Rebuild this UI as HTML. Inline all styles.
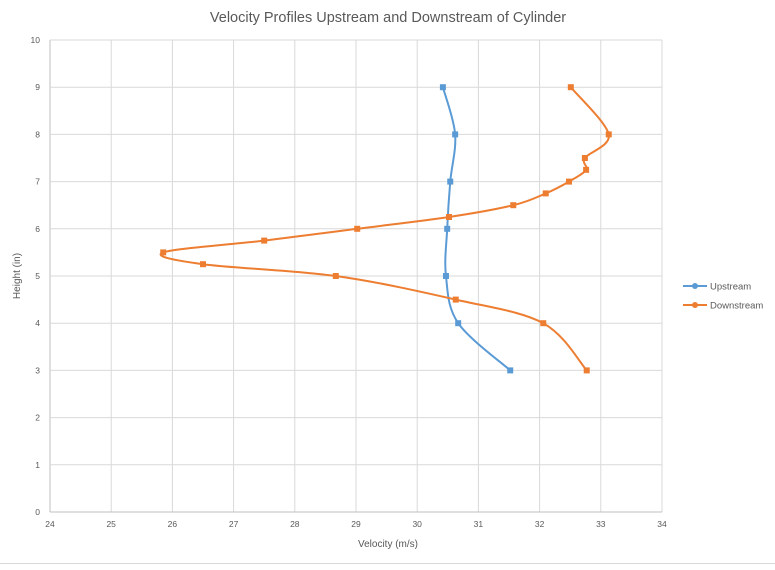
<!DOCTYPE html>
<html><head><meta charset="utf-8"><style>
body{margin:0;background:#fff;font-family:"Liberation Sans",sans-serif}
svg text{font-family:"Liberation Sans",sans-serif}
</style></head><body>
<svg id="chart" width="775" height="565" viewBox="0 0 775 565">
<rect width="775" height="565" fill="#fff"/>
<line x1="0" y1="563.5" x2="775" y2="563.5" stroke="#d9d9d9"/>
<text x="388" y="22" text-anchor="middle" font-size="14.5" fill="#595959">Velocity Profiles Upstream and Downstream of Cylinder</text>
<g id="grid"></g><g id="ticks"></g>
<text x="388" y="547" text-anchor="middle" font-size="10" fill="#595959">Velocity (m/s)</text>
<text x="0" y="0" transform="translate(20,276) rotate(-90)" text-anchor="middle" font-size="10" fill="#595959">Height (in)</text>
<g id="series"></g>
<g>
<g>
<line x1="683" y1="286" x2="707" y2="286" stroke="#5b9bd5" stroke-width="2"/><circle cx="695" cy="286" r="3" fill="#5b9bd5"/>
<text x="710" y="289.5" font-size="9.5" fill="#595959">Upstream</text></g>
<g>
<line x1="683" y1="305" x2="707" y2="305" stroke="#ed7d31" stroke-width="2"/><circle cx="695" cy="305" r="3" fill="#ed7d31"/>
<text x="710" y="308.5" font-size="9.5" fill="#595959">Downstream</text></g>
</g>
</svg>
<script>
const xTicks=[24,25,26,27,28,29,30,31,32,33,34];
const yTicks=[0,1,2,3,4,5,6,7,8,9,10];
const upVel=[30.42,30.62,30.54,30.49,30.47,30.67,31.52];
const upH=[9,8,7,6,5,4,3];
const downVel=[32.51,33.13,32.74,32.76,32.48,32.1,31.57,30.52,29.02,27.5,25.85,26.5,28.67,30.63,32.06,32.77];
const downH=[9,8,7.5,7.25,7,6.75,6.5,6.25,6,5.75,5.5,5.25,5,4.5,4,3];
const NS='http://www.w3.org/2000/svg';
const X0=50,X1=662,Y0=512,Y1=40;
const sx=v=>X0+(v-24)/(34-24)*(X1-X0);
const sy=v=>Y0-(v-0)/(10-0)*(Y0-Y1);
function mk(tag,attrs,parent){const e=document.createElementNS(NS,tag);for(const k in attrs)e.setAttribute(k,attrs[k]);parent.appendChild(e);return e;}
const grid=document.getElementById('grid'),ticks=document.getElementById('ticks'),series=document.getElementById('series');
xTicks.forEach(t=>{
 const l=mk('line',{x1:sx(t),x2:sx(t),y1:Y1,y2:Y0,stroke:t===24?'#bfbfbf':'#d9d9d9'},grid);
 
 
 const tx=mk('text',{x:sx(t),y:Y0+15,'text-anchor':'middle','font-size':'8.5',fill:'#595959'},ticks);
 tx.textContent=t;
 
 
});
yTicks.forEach(t=>{
 const l=mk('line',{x1:X0,x2:X1,y1:sy(t),y2:sy(t),stroke:t===0?'#bfbfbf':'#d9d9d9'},grid);
 
 
 const tx=mk('text',{x:X0-10,y:sy(t)+3,'text-anchor':'end','font-size':'8.5',fill:'#595959'},ticks);
 tx.textContent=t;
 
 
});
function smooth(pts){
 let d='M'+pts[0][0]+','+pts[0][1];
 for(let i=0;i<pts.length-1;i++){
  const p0=pts[i-1]||pts[i],p1=pts[i],p2=pts[i+1],p3=pts[i+2]||p2;
  const c1=[p1[0]+(p2[0]-p0[0])/6,p1[1]+(p2[1]-p0[1])/6];
  const c2=[p2[0]-(p3[0]-p1[0])/6,p2[1]-(p3[1]-p1[1])/6];
  d+=' C'+c1+' '+c2+' '+p2;
 }
 return d;
}
function draw(vel,h,color,name){
 const pts=vel.map((v,i)=>[sx(v),sy(h[i])]);
 const p=mk('path',{d:smooth(pts),fill:'none',stroke:color,'stroke-width':2},series);
 
 
 pts.forEach(q=>{
  const r=mk('rect',{x:q[0]-3,y:q[1]-3,width:6,height:6,fill:color},series);
  
  
 });
}
draw(upVel,upH,'#5b9bd5','upstream');
draw(downVel,downH,'#ed7d31','downstream');
</script>
</body></html>
